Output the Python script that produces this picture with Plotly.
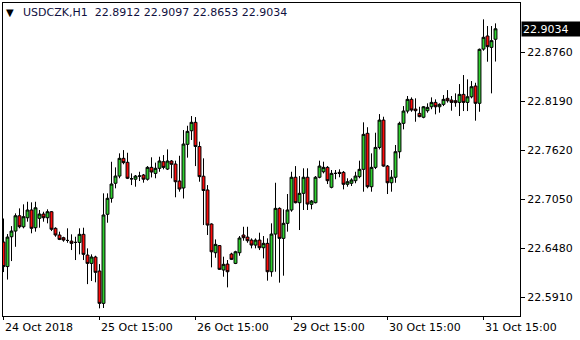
import plotly.graph_objects as go

symbol = "USDCZK,H1"
tick_positions = [0, 24, 48, 72, 96, 120]
tick_labels = ["24 Oct 2018", "25 Oct 15:00", "26 Oct 15:00", "29 Oct 15:00", "30 Oct 15:00", "31 Oct 15:00"]
price_ticks = [22.5910, 22.6480, 22.7050, 22.7620, 22.8190, 22.8760]

opens = [22.6553, 22.6268, 22.6615, 22.6681, 22.6859, 22.6731, 22.6836, 22.6926, 22.6720, 22.6829,
         22.6879, 22.6836, 22.6906, 22.6713, 22.6635, 22.6604, 22.6572, 22.6564, 22.6549, 22.6549,
         22.6643, 22.6402, 22.6305, 22.6379, 22.6216, 22.5840, 22.6876, 22.7062, 22.7237, 22.7321,
         22.7527, 22.7481, 22.7289, 22.7284, 22.7321, 22.7333, 22.7284, 22.7422, 22.7352, 22.7411,
         22.7488, 22.7402, 22.7496, 22.7461, 22.7263, 22.7182, 22.7690, 22.7848, 22.7946, 22.7665,
         22.7319, 22.7159, 22.6763, 22.6429, 22.6512, 22.6228, 22.6297, 22.6414, 22.6305, 22.6429,
         22.6635, 22.6611, 22.6576, 22.6518, 22.6576, 22.6487, 22.6538, 22.6208, 22.6646, 22.6945,
         22.6596, 22.6771, 22.6926, 22.7307, 22.7011, 22.7120, 22.7307, 22.6992, 22.7011, 22.7307,
         22.7371, 22.7422, 22.7190, 22.7352, 22.7364, 22.7364, 22.7225, 22.7237, 22.7267, 22.7314,
         22.7399, 22.7818, 22.7197, 22.7422, 22.7654, 22.7972, 22.7437, 22.7243, 22.7307, 22.7604,
         22.7934, 22.8077, 22.8213, 22.8100, 22.8050, 22.8005, 22.8081, 22.8127, 22.8178, 22.8127,
         22.8155, 22.8225, 22.8205, 22.8197, 22.8178, 22.8271, 22.8178, 22.8243, 22.8368, 22.8167,
         22.8798, 22.8950, 22.8818, 22.8912]

highs = [22.6827, 22.6646, 22.6739, 22.6887, 22.6945, 22.6992, 22.7022, 22.7015, 22.7022, 22.6926,
         22.6906, 22.6934, 22.6914, 22.6725, 22.6674, 22.6615, 22.6713, 22.6643, 22.6615, 22.6713,
         22.6720, 22.6480, 22.6410, 22.6394, 22.6297, 22.7120, 22.7120, 22.7487, 22.7422, 22.7585,
         22.7623, 22.7592, 22.7352, 22.7333, 22.7371, 22.7345, 22.7437, 22.7539, 22.7477, 22.7546,
         22.7565, 22.7631, 22.7507, 22.7500, 22.7557, 22.7856, 22.7906, 22.8019, 22.8007, 22.7721,
         22.7527, 22.7216, 22.6771, 22.6584, 22.6518, 22.6383, 22.6344, 22.6429, 22.6452, 22.6623,
         22.6731, 22.6731, 22.6596, 22.6596, 22.6662, 22.6623, 22.6596, 22.6771, 22.7243, 22.6957,
         22.6934, 22.7112, 22.7371, 22.7437, 22.7321, 22.7411, 22.7411, 22.7042, 22.7321, 22.7500,
         22.7488, 22.7437, 22.7391, 22.7391, 22.7399, 22.7379, 22.7295, 22.7295, 22.7371, 22.7500,
         22.7946, 22.7889, 22.7585, 22.7825, 22.8042, 22.8011, 22.7449, 22.7391, 22.7682, 22.7953,
         22.8135, 22.8252, 22.8236, 22.8225, 22.8127, 22.8135, 22.8167, 22.8236, 22.8213, 22.8167,
         22.8263, 22.8321, 22.8252, 22.8283, 22.8391, 22.8496, 22.8446, 22.8426, 22.8406, 22.8804,
         22.9144, 22.9066, 22.9066, 22.9097]

lows = [22.6204, 22.6117, 22.6332, 22.6498, 22.6713, 22.6713, 22.6790, 22.6655, 22.6674, 22.6720,
        22.6790, 22.6771, 22.6681, 22.6615, 22.6576, 22.6557, 22.6545, 22.6460, 22.6344, 22.6410,
        22.6344, 22.6064, 22.6100, 22.6085, 22.5782, 22.5786, 22.6778, 22.7011, 22.7178, 22.7295,
        22.7458, 22.7286, 22.7216, 22.7197, 22.7263, 22.7244, 22.7268, 22.7305, 22.7295, 22.7371,
        22.7399, 22.7391, 22.7295, 22.7074, 22.7139, 22.7060, 22.7535, 22.7740, 22.7437, 22.7255,
        22.6751, 22.6635, 22.6259, 22.6371, 22.6228, 22.6150, 22.6026, 22.6344, 22.6297, 22.6394,
        22.6569, 22.6545, 22.6480, 22.6480, 22.6460, 22.6363, 22.6104, 22.6150, 22.6208, 22.6081,
        22.6162, 22.6674, 22.6906, 22.7003, 22.6693, 22.6926, 22.6926, 22.6934, 22.7003, 22.7295,
        22.7352, 22.7228, 22.7178, 22.7284, 22.7307, 22.7166, 22.7197, 22.7205, 22.7237, 22.7295,
        22.7139, 22.7178, 22.7139, 22.7402, 22.7631, 22.7429, 22.7112, 22.7139, 22.7243, 22.7527,
        22.7864, 22.8050, 22.8069, 22.7953, 22.8005, 22.7993, 22.8058, 22.8098, 22.8039, 22.8058,
        22.8135, 22.8175, 22.8081, 22.8127, 22.8019, 22.8077, 22.8077, 22.8225, 22.7965, 22.8069,
        22.8779, 22.8651, 22.8283, 22.8653]

closes = [22.6268, 22.6611, 22.6681, 22.6859, 22.6731, 22.6848, 22.6926, 22.6713, 22.6952, 22.6879,
          22.6836, 22.6906, 22.6702, 22.6635, 22.6584, 22.6576, 22.6572, 22.6538, 22.6549, 22.6643,
          22.6410, 22.6305, 22.6379, 22.6201, 22.5840, 22.6868, 22.7062, 22.7228, 22.7321, 22.7527,
          22.7477, 22.7295, 22.7289, 22.7321, 22.7321, 22.7284, 22.7422, 22.7368, 22.7411, 22.7496,
          22.7422, 22.7496, 22.7458, 22.7255, 22.7170, 22.7693, 22.7841, 22.7946, 22.7665, 22.7314,
          22.7153, 22.6751, 22.6440, 22.6526, 22.6236, 22.6294, 22.6208, 22.6352, 22.6440, 22.6600,
          22.6604, 22.6569, 22.6518, 22.6576, 22.6487, 22.6538, 22.6208, 22.6646, 22.6945, 22.6596,
          22.6771, 22.6926, 22.7307, 22.7011, 22.7120, 22.7307, 22.6995, 22.7030, 22.7307, 22.7437,
          22.7422, 22.7267, 22.7352, 22.7352, 22.7352, 22.7225, 22.7255, 22.7275, 22.7321, 22.7399,
          22.7806, 22.7197, 22.7422, 22.7654, 22.7972, 22.7437, 22.7243, 22.7307, 22.7604, 22.7934,
          22.8077, 22.8213, 22.8089, 22.8081, 22.8012, 22.8127, 22.8120, 22.8178, 22.8127, 22.8155,
          22.8213, 22.8197, 22.8178, 22.8175, 22.8271, 22.8178, 22.8243, 22.8360, 22.8167, 22.8795,
          22.8935, 22.8826, 22.8896, 22.9034]

bars = list(range(len(opens)))
FONT = "DejaVu Sans"

fig = go.Figure(go.Candlestick(
    x=bars, open=opens, high=highs, low=lows, close=closes,
    increasing=dict(line=dict(color="black", width=1), fillcolor="#2ed02e"),
    decreasing=dict(line=dict(color="black", width=1), fillcolor="#ff0a0a"),
    whiskerwidth=0, hoverinfo="skip",
))

fig.update_layout(
    width=580, height=340,
    margin=dict(l=3, r=60, t=3, b=24),
    paper_bgcolor="white", plot_bgcolor="white",
    showlegend=False, boxgap=0.28, boxgroupgap=0,
    font=dict(family=FONT, size=11, color="black"),
    xaxis=dict(
        range=[-0.125, 129.125], rangeslider=dict(visible=False),
        showgrid=False, zeroline=False,
        showline=True, mirror=True, linecolor="black", linewidth=1,
        tickmode="array", tickvals=tick_positions, ticktext=[""] * len(tick_positions),
        ticks="outside", ticklen=3, tickcolor="black", tickwidth=1,
    ),
    yaxis=dict(
        range=[22.5693, 22.9334], side="right",
        showgrid=False, zeroline=False,
        showline=True, mirror=True, linecolor="black", linewidth=1,
        tickmode="array", tickvals=price_ticks,
        ticktext=[f"{v:.4f}" for v in price_ticks],
        ticks="outside", ticklen=4, tickcolor="black", tickwidth=1,
        tickfont=dict(family=FONT, size=11, color="black"),
    ),
)

annotations = []
for pos, lab in zip(tick_positions, tick_labels):
    annotations.append(dict(
        x=pos, y=0, xref="x", yref="paper", xanchor="left", yanchor="top",
        xshift=-1, yshift=-3, text=lab, showarrow=False,
        font=dict(family=FONT, size=11, color="black"),
    ))

annotations.append(dict(
    x=0, y=1, xref="paper", yref="paper", xanchor="left", yanchor="top",
    xshift=1, yshift=-2, text="\u25BC", showarrow=False,
    font=dict(family=FONT, size=10, color="black"),
))
title_text = (symbol + "\u00a0\u00a0" + f"{opens[-1]:.4f} {highs[-1]:.4f} {lows[-1]:.4f} {closes[-1]:.4f}")
annotations.append(dict(
    x=0, y=1, xref="paper", yref="paper", xanchor="left", yanchor="top",
    xshift=18, yshift=-1, text=title_text, showarrow=False,
    font=dict(family=FONT, size=11, color="#101040"),
))

annotations.append(dict(
    x=1, y=closes[-1], xref="paper", yref="y", xanchor="left", yanchor="middle",
    xshift=1, text=f"{closes[-1]:.4f}", showarrow=False,
    bgcolor="black", font=dict(family=FONT, size=11, color="white"),
    width=56, height=12, align="left", borderpad=1,
))

fig.update_layout(annotations=annotations)
fig.write_html("out.html")
